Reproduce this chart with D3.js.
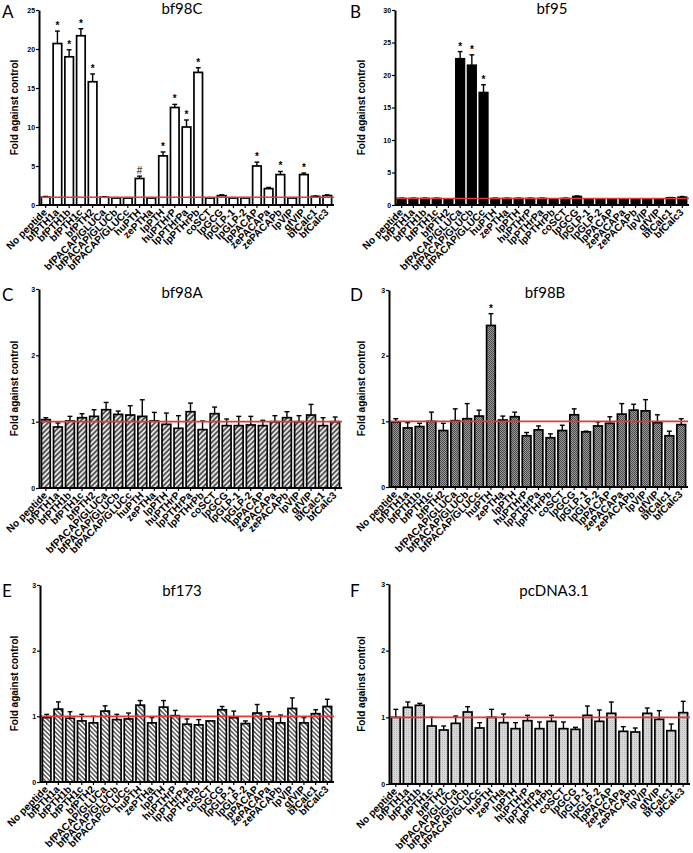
<!DOCTYPE html>
<html><head><meta charset="utf-8">
<script src="https://cdn.jsdelivr.net/npm/d3@7"></script>
<style>body{margin:0;background:#fff}svg{display:block}</style>
</head><body>
<script>
const categories = ["No peptide","bfPTH1a","bfPTH1b","bfPTH1c","bfPTH2","bfPACAP/GLUCa","bfPACAP/GLUCb","bfPACAP/GLUCc","huPTH","zePTHa","lpPTH","huPTHrP","lpPTHrPa","lpPTHrPb","coSCT","lpGCG","lpGLP-1","lpGLP-2","lpPACAP","zePACAPa","zePACAPb","lpVIP","gfVIP","bfCalc1","bfCalc3"];

const bf98C     = [1.0,20.7,19.0,21.7,15.8,1.0,0.9,0.9,3.4,0.9,6.3,12.5,10.0,17.0,0.9,1.2,0.9,0.9,5.0,2.1,3.9,0.9,3.9,1.1,1.2];
const bf98C_err = [0.1,1.6,0.9,0.9,1.0,0.05,0.05,0.05,0.3,0.05,0.5,0.4,0.9,0.6,0.05,0.1,0.05,0.05,0.5,0.15,0.4,0.05,0.2,0.05,0.1];
const bf98C_sig = ["","*","*","*","*","","","","#","","*","*","*","*","","","","","*","","*","","*","",""];

const bf95      = [1.0,1.0,1.0,1.0,0.9,22.5,21.5,17.3,1.0,1.0,1.0,1.0,1.0,0.9,1.0,1.3,0.9,0.9,0.9,0.9,0.9,0.9,0.9,1.1,1.2];
const bf95_err  = [0.05,0.05,0.05,0.05,0.05,1.1,1.6,1.2,0.05,0.05,0.05,0.05,0.05,0.05,0.05,0.1,0.05,0.05,0.05,0.05,0.05,0.05,0.05,0.05,0.1];
const bf95_sig  = ["","","","","","*","*","*","","","","","","","","","","","","","","","","",""];

const bf98A     = [1.03,0.92,1.01,1.06,1.08,1.18,1.11,1.10,1.08,1.01,0.96,0.90,1.15,0.88,1.12,0.94,0.94,0.95,0.94,1.00,1.06,1.00,1.10,0.94,1.00];
const bf98A_err = [0.03,0.06,0.07,0.06,0.10,0.11,0.05,0.14,0.25,0.13,0.17,0.19,0.13,0.13,0.10,0.10,0.14,0.13,0.08,0.09,0.09,0.09,0.16,0.12,0.07];

const bf98B     = [0.99,0.90,0.92,1.00,0.86,1.01,1.04,1.08,2.46,1.02,1.07,0.78,0.87,0.75,0.86,1.10,0.84,0.93,0.97,1.11,1.17,1.16,0.98,0.78,0.95];
const bf98B_err = [0.05,0.08,0.05,0.14,0.11,0.18,0.23,0.09,0.18,0.06,0.07,0.05,0.06,0.06,0.08,0.09,0.01,0.06,0.10,0.16,0.09,0.17,0.12,0.07,0.09];
const bf98B_sig = ["","","","","","","","","*","","","","","","","","","","","","","","","",""];

const bf173     = [0.98,1.11,0.97,0.93,0.90,1.08,0.95,0.96,1.17,0.90,1.14,1.01,0.88,0.87,0.93,1.10,0.98,0.89,1.05,0.96,0.90,1.12,0.90,1.04,1.15];
const bf173_err = [0.05,0.11,0.10,0.10,0.10,0.08,0.08,0.09,0.07,0.08,0.10,0.08,0.08,0.08,0.00,0.05,0.10,0.04,0.13,0.11,0.12,0.16,0.08,0.06,0.11];

const pcDNA     = [1.00,1.15,1.18,0.87,0.81,0.91,1.08,0.84,1.00,0.92,0.83,0.95,0.83,0.94,0.83,0.82,1.03,0.94,1.06,0.79,0.78,1.06,0.97,0.80,1.07];
const pcDNA_err = [0.12,0.08,0.03,0.13,0.06,0.11,0.08,0.08,0.12,0.13,0.09,0.08,0.10,0.09,0.10,0.03,0.14,0.17,0.17,0.07,0.06,0.08,0.13,0.10,0.17];

const ticksBig = [0,5,10,15,20,25];
const ticksB   = [0,5,10,15,20,25,30];
const ticksSmall = [0,1,2,3];
const noSig = categories.map(() => "");

const svg = d3.select("body").append("svg").attr("width",693).attr("height",853);
const defs = svg.append("defs");

function stripe(id, angle, bg, fg, w, sw){
  const p = defs.append("pattern").attr("id",id).attr("patternUnits","userSpaceOnUse")
    .attr("width",w).attr("height",w).attr("patternTransform",`rotate(${angle})`);
  p.append("rect").attr("width",w).attr("height",w).attr("fill",bg);
  p.append("line").attr("x1",w/2).attr("x2",w/2).attr("y1",0).attr("y2",w).attr("stroke",fg).attr("stroke-width",sw);
}
stripe("hatchC",45,"#e4e4e4","#2a2a2a",3.6,1.4);
stripe("hatchE",-45,"#ffffff","#1a1a1a",3.2,1.1);
{
  const p = defs.append("pattern").attr("id","checkD").attr("patternUnits","userSpaceOnUse").attr("width",2).attr("height",2);
  p.append("rect").attr("width",2).attr("height",2).attr("fill","#9a9a9a");
  p.append("rect").attr("width",1).attr("height",1).attr("fill","#4a4a4a");
  p.append("rect").attr("x",1).attr("y",1).attr("width",1).attr("height",1).attr("fill","#4a4a4a");
}
{
  const p = defs.append("pattern").attr("id","dotF").attr("patternUnits","userSpaceOnUse").attr("width",2).attr("height",2);
  p.append("rect").attr("width",2).attr("height",2).attr("fill","#d8d8d8");
  p.append("rect").attr("width",1).attr("height",1).attr("fill","#b8b8b8");
}

const panels = [
  {letter:"A", title:"bf98C", vals:bf98C, errs:bf98C_err, sig:bf98C_sig, ticks:ticksBig, max:25,
   x0:39, x1:333, y0:205, yT:10, fill:"#ffffff", lx:2, ly:18, tx:182, ty:14, labX:14},
  {letter:"B", title:"bf95", vals:bf95, errs:bf95_err, sig:bf95_sig, ticks:ticksB, max:30,
   x0:395, x1:688, y0:205, yT:10, fill:"#000000", lx:350, ly:18, tx:552, ty:14, labX:361},
  {letter:"C", title:"bf98A", vals:bf98A, errs:bf98A_err, sig:noSig, ticks:ticksSmall, max:3,
   x0:39, x1:341, y0:488, yT:289, fill:"url(#hatchC)", lx:2, ly:301, tx:182, ty:298, labX:14},
  {letter:"D", title:"bf98B", vals:bf98B, errs:bf98B_err, sig:bf98B_sig, ticks:ticksSmall, max:3,
   x0:389, x1:687, y0:487, yT:290, fill:"url(#checkD)", lx:350, ly:301, tx:545, ty:298, labX:361},
  {letter:"E", title:"bf173", vals:bf173, errs:bf173_err, sig:noSig, ticks:ticksSmall, max:3,
   x0:40, x1:333, y0:782, yT:585, fill:"url(#hatchE)", lx:2, ly:597, tx:182, ty:596, labX:14},
  {letter:"F", title:"pcDNA3.1", vals:pcDNA, errs:pcDNA_err, sig:noSig, ticks:ticksSmall, max:3,
   x0:389, x1:689, y0:784, yT:584, fill:"url(#dotF)", lx:350, ly:597, tx:554, ty:596, labX:361}
];

panels.forEach(P => {
  const g = svg.append("g");
  const x = d3.scaleBand().domain(categories).range([P.x0+1, P.x1]).paddingInner(0.27).paddingOuter(0.12);
  const y = d3.scaleLinear().domain([0,P.max]).range([P.y0, P.yT]);
  const data = categories.map((c,i) => ({c, v:P.vals[i], e:P.errs[i], s:P.sig[i]}));

  g.selectAll("rect.bar").data(data).join("rect").attr("class","bar")
    .attr("x", d => x(d.c)).attr("width", x.bandwidth())
    .attr("y", d => y(d.v)).attr("height", d => y(0)-y(d.v))
    .attr("fill", P.fill).attr("stroke","#000").attr("stroke-width",1.7);

  const cap = x.bandwidth()*0.28;
  g.selectAll("line.eb").data(data.filter(d=>d.e>0)).join("line").attr("class","eb")
    .attr("x1", d => x(d.c)+x.bandwidth()/2).attr("x2", d => x(d.c)+x.bandwidth()/2)
    .attr("y1", d => y(d.v)).attr("y2", d => y(d.v+d.e)).attr("stroke","#000").attr("stroke-width",1.4);
  g.selectAll("line.cap").data(data.filter(d=>d.e>0)).join("line").attr("class","cap")
    .attr("x1", d => x(d.c)+x.bandwidth()/2-cap).attr("x2", d => x(d.c)+x.bandwidth()/2+cap)
    .attr("y1", d => y(d.v+d.e)).attr("y2", d => y(d.v+d.e)).attr("stroke","#000").attr("stroke-width",1.4);

  g.selectAll("text.sig").data(data.filter(d=>d.s)).join("text").attr("class","sig")
    .attr("x", d => x(d.c)+x.bandwidth()/2).attr("y", d => y(d.v+d.e)-2)
    .attr("text-anchor","middle").attr("font-family","Liberation Sans, Arial").attr("font-size",10)
    .attr("font-weight", d => d.s==="#" ? "normal" : "bold").attr("fill","#000")
    .text(d => d.s);

  g.append("line").attr("x1",P.x0).attr("x2",P.x1+1).attr("y1",y(1)).attr("y2",y(1))
    .attr("stroke","#e03a3a").attr("stroke-width",1.6);

  const ya = g.append("g").attr("transform",`translate(${P.x0},0)`)
    .call(d3.axisLeft(y).tickValues(P.ticks).tickSize(3).tickSizeOuter(0).tickFormat(d3.format("d")));
  ya.select(".domain").attr("stroke","#000").attr("stroke-width",2);
  ya.selectAll(".tick line").attr("stroke","#000").attr("stroke-width",1.2);
  ya.selectAll("text").attr("fill","#000").attr("font-family","Liberation Sans, Arial").attr("font-size",7).attr("font-weight","bold").attr("dx","0.3em");

  const xa = g.append("g").attr("transform",`translate(0,${P.y0})`)
    .call(d3.axisBottom(x).tickSize(3).tickSizeOuter(0));
  xa.select(".domain").attr("stroke","#000").attr("stroke-width",2).attr("d",`M${P.x0},0H${P.x1+1}`);
  xa.selectAll(".tick line").attr("stroke","#000").attr("stroke-width",1.2);
  xa.selectAll("text").attr("fill","#000").attr("font-family","Liberation Sans, Arial").attr("font-size",10.2).attr("font-weight","bold")
    .attr("text-anchor","end").attr("dy",0).attr("y",0)
    .attr("transform","translate(2,8) rotate(-45)");

  g.append("text").attr("transform",`translate(${P.labX},${(P.y0+P.yT)/2}) rotate(-90)`)
    .attr("text-anchor","middle").attr("dy","0.35em").attr("fill","#000")
    .attr("font-family","Liberation Sans, Arial").attr("font-size",10).attr("font-weight","bold")
    .text("Fold against control");

  g.append("text").attr("x",P.tx).attr("y",P.ty).attr("text-anchor","middle").attr("fill","#000")
    .attr("font-family","Lato, Open Sans, sans-serif").attr("font-size",15).text(P.title);

  g.append("text").attr("x",P.lx).attr("y",P.ly).attr("fill","#000")
    .attr("font-family","Lato, Open Sans, sans-serif").attr("font-size",17).text(P.letter);
});
</script>
</body></html>
